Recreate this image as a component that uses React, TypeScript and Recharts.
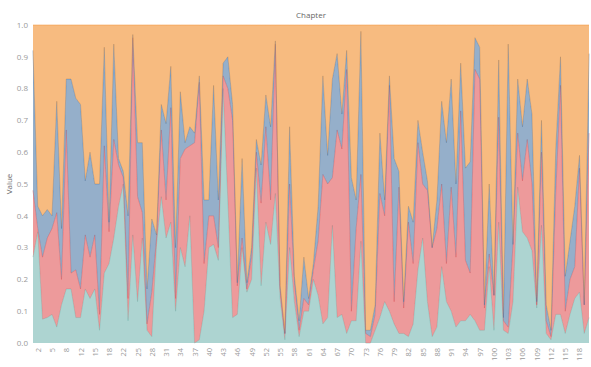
import { Area, AreaChart, XAxis, YAxis } from 'recharts'

// chapters 10 and 20 are absent from the source data
const chapters = [
  1, 2, 3, 4, 5, 6, 7, 8, 9, 11, 12, 13, 14, 15, 16, 17, 18, 19, 21, 22, 23, 24, 25, 26, 27, 28, 29, 30,
  31, 32, 33, 34, 35, 36, 37, 38, 39, 40, 41, 42, 43, 44, 45, 46, 47, 48, 49, 50, 51, 52, 53, 54, 55, 56,
  57, 58, 59, 60, 61, 62, 63, 64, 65, 66, 67, 68, 69, 70, 71, 72, 73, 74, 75, 76, 77, 78, 79, 80, 81, 82,
  83, 84, 85, 86, 87, 88, 89, 90, 91, 92, 93, 94, 95, 96, 97, 98, 99, 100, 101, 102, 103, 104, 105, 106,
  107, 108, 109, 110, 111, 112, 113, 114, 115, 116, 117, 118, 119, 120,
]

// cumulative shares (top edge of each band)
const tealTop = [
  0.27, 0.35, 0.075, 0.08, 0.09, 0.05, 0.12, 0.17, 0.17, 0.08, 0.08, 0.17, 0.14, 0.17, 0.04, 0.22, 0.25, 0.33,
  0.43, 0.5, 0.07, 0.34, 0.13, 0.33, 0.04, 0.02, 0.31, 0.46, 0.33, 0.38, 0.1, 0.3, 0.24, 0.4, 0.0, 0.01,
  0.1, 0.3, 0.31, 0.26, 0.8, 0.45, 0.08, 0.09, 0.3, 0.16, 0.2, 0.55, 0.18, 0.38, 0.31, 0.47, 0.14, 0.01,
  0.3, 0.13, 0.02, 0.1, 0.1, 0.2, 0.15, 0.06, 0.08, 0.37, 0.08, 0.09, 0.03, 0.07, 0.07, 0.32, 0.0, 0.0,
  0.04, 0.08, 0.13, 0.1, 0.06, 0.03, 0.03, 0.02, 0.06, 0.23, 0.33, 0.13, 0.02, 0.05, 0.24, 0.13, 0.1, 0.05,
  0.07, 0.07, 0.09, 0.07, 0.04, 0.04, 0.24, 0.04, 0.38, 0.04, 0.03, 0.13, 0.49, 0.35, 0.33, 0.29, 0.11, 0.37,
  0.03, 0.01, 0.09, 0.09, 0.03, 0.09, 0.14, 0.16, 0.03, 0.08,
]
const redTop = [
  0.48, 0.36, 0.27, 0.33, 0.36, 0.41, 0.2, 0.67, 0.22, 0.23, 0.17, 0.34, 0.27, 0.34, 0.09, 0.62, 0.35, 0.64,
  0.56, 0.52, 0.14, 0.96, 0.46, 0.41, 0.06, 0.16, 0.33, 0.67, 0.45, 0.74, 0.14, 0.58, 0.61, 0.62, 0.63, 0.82,
  0.25, 0.4, 0.4, 0.3, 0.84, 0.8, 0.7, 0.18, 0.33, 0.17, 0.27, 0.6, 0.44, 0.68, 0.45, 0.94, 0.17, 0.03,
  0.5, 0.19, 0.04, 0.14, 0.12, 0.23, 0.32, 0.53, 0.5, 0.52, 0.67, 0.61, 0.86, 0.1, 0.36, 0.53, 0.03, 0.02,
  0.09, 0.47, 0.4, 0.81, 0.13, 0.49, 0.11, 0.38, 0.25, 0.63, 0.5, 0.48, 0.3, 0.36, 0.5, 0.25, 0.49, 0.27,
  0.73, 0.26, 0.22, 0.86, 0.83, 0.11, 0.28, 0.15, 0.71, 0.07, 0.05, 0.31, 0.66, 0.51, 0.64, 0.5, 0.12, 0.6,
  0.07, 0.02, 0.47, 0.81, 0.1, 0.2, 0.24, 0.55, 0.12, 0.66,
]
const blueTop = [
  0.92, 0.43, 0.4, 0.42, 0.4, 0.76, 0.36, 0.83, 0.83, 0.77, 0.75, 0.51, 0.6, 0.5, 0.5, 0.93, 0.38, 0.94,
  0.58, 0.54, 0.4, 0.97, 0.63, 0.63, 0.17, 0.39, 0.34, 0.75, 0.69, 0.87, 0.3, 0.79, 0.63, 0.68, 0.66, 0.84,
  0.45, 0.45, 0.81, 0.45, 0.88, 0.9, 0.75, 0.19, 0.58, 0.19, 0.3, 0.64, 0.56, 0.78, 0.68, 0.95, 0.18, 0.03,
  0.68, 0.21, 0.07, 0.27, 0.14, 0.25, 0.43, 0.84, 0.59, 0.83, 0.91, 0.72, 0.92, 0.52, 0.45, 0.98, 0.04, 0.04,
  0.12, 0.66, 0.45, 0.84, 0.58, 0.54, 0.13, 0.43, 0.38, 0.7, 0.6, 0.51, 0.3, 0.45, 0.76, 0.63, 0.83, 0.5,
  0.88, 0.55, 0.57, 0.96, 0.93, 0.12, 0.5, 0.15, 0.89, 0.08, 0.94, 0.31, 0.83, 0.68, 0.83, 0.72, 0.13, 0.7,
  0.12, 0.04, 0.61, 0.9, 0.21, 0.32, 0.43, 0.59, 0.12, 0.91,
]

const yTicks = [0, 0.1, 0.2, 0.3, 0.4, 0.5, 0.6, 0.7, 0.8, 0.9, 1]

const data = chapters.map((chapter, i) => ({
  chapter,
  teal: tealTop[i],
  red: redTop[i] - tealTop[i],
  blue: blueTop[i] - redTop[i],
  orange: 1 - blueTop[i],
}))

const FONT = '"Open Sans", sans-serif'

function ChapterTick({ x, y, payload, index }: any) {
  if (index % 3 !== 1) return <g />
  return (
    <text
      x={x}
      y={y}
      transform={`rotate(-90 ${x} ${y})`}
      textAnchor="end"
      dominantBaseline="central"
      fontSize={7.5}
      fontFamily={FONT}
      fill="#9a9a9a"
    >
      {payload.value}
    </text>
  )
}

export default function App() {
  return (
    <div style={{ position: 'fixed', left: 0, top: 0, width: 591, height: 367, background: '#fff' }}>
      <div
        style={{
          position: 'absolute',
          left: 311,
          top: 14,
          transform: 'translate(-50%, -50%)',
          fontFamily: FONT,
          fontSize: 8,
          color: '#666',
          whiteSpace: 'nowrap',
        }}
      >
        Chapter
      </div>
      <div
        style={{
          position: 'absolute',
          left: 8,
          top: 184,
          transform: 'translate(-50%, -50%) rotate(-90deg)',
          fontFamily: FONT,
          fontSize: 8,
          color: '#666',
          whiteSpace: 'nowrap',
        }}
      >
        Value
      </div>
      <AreaChart
        width={591}
        height={367}
        data={data}
        stackOffset="expand"
        margin={{ top: 25, right: 2, bottom: 0, left: 0 }}
      >
        <XAxis
          dataKey="chapter"
          interval={0}
          tick={<ChapterTick />}
          tickLine={false}
          axisLine={false}
          tickSize={0}
          tickMargin={5}
          height={24}
        />
        <YAxis
          domain={[0, 1]}
          ticks={yTicks}
          tickFormatter={(v: number) => v.toFixed(1)}
          tick={{ fontSize: 8, fill: '#9a9a9a', fontFamily: FONT }}
          tickLine={false}
          axisLine={false}
          tickSize={0}
          tickMargin={5}
          width={33}
        />
        <Area type="linear" dataKey="teal" stackId="s" fill="#76b7b2" fillOpacity={0.6} stroke="#76b7b2" strokeOpacity={0.6} strokeWidth={0.8} isAnimationActive={false} />
        <Area type="linear" dataKey="red" stackId="s" fill="#e15759" fillOpacity={0.6} stroke="#e15759" strokeOpacity={0.6} strokeWidth={0.8} isAnimationActive={false} />
        <Area type="linear" dataKey="blue" stackId="s" fill="#4e79a7" fillOpacity={0.6} stroke="#4e79a7" strokeOpacity={0.6} strokeWidth={0.8} isAnimationActive={false} />
        <Area type="linear" dataKey="orange" stackId="s" fill="#f28e2b" fillOpacity={0.6} stroke="#f28e2b" strokeOpacity={0.6} strokeWidth={0.8} isAnimationActive={false} />
      </AreaChart>
    </div>
  )
}
